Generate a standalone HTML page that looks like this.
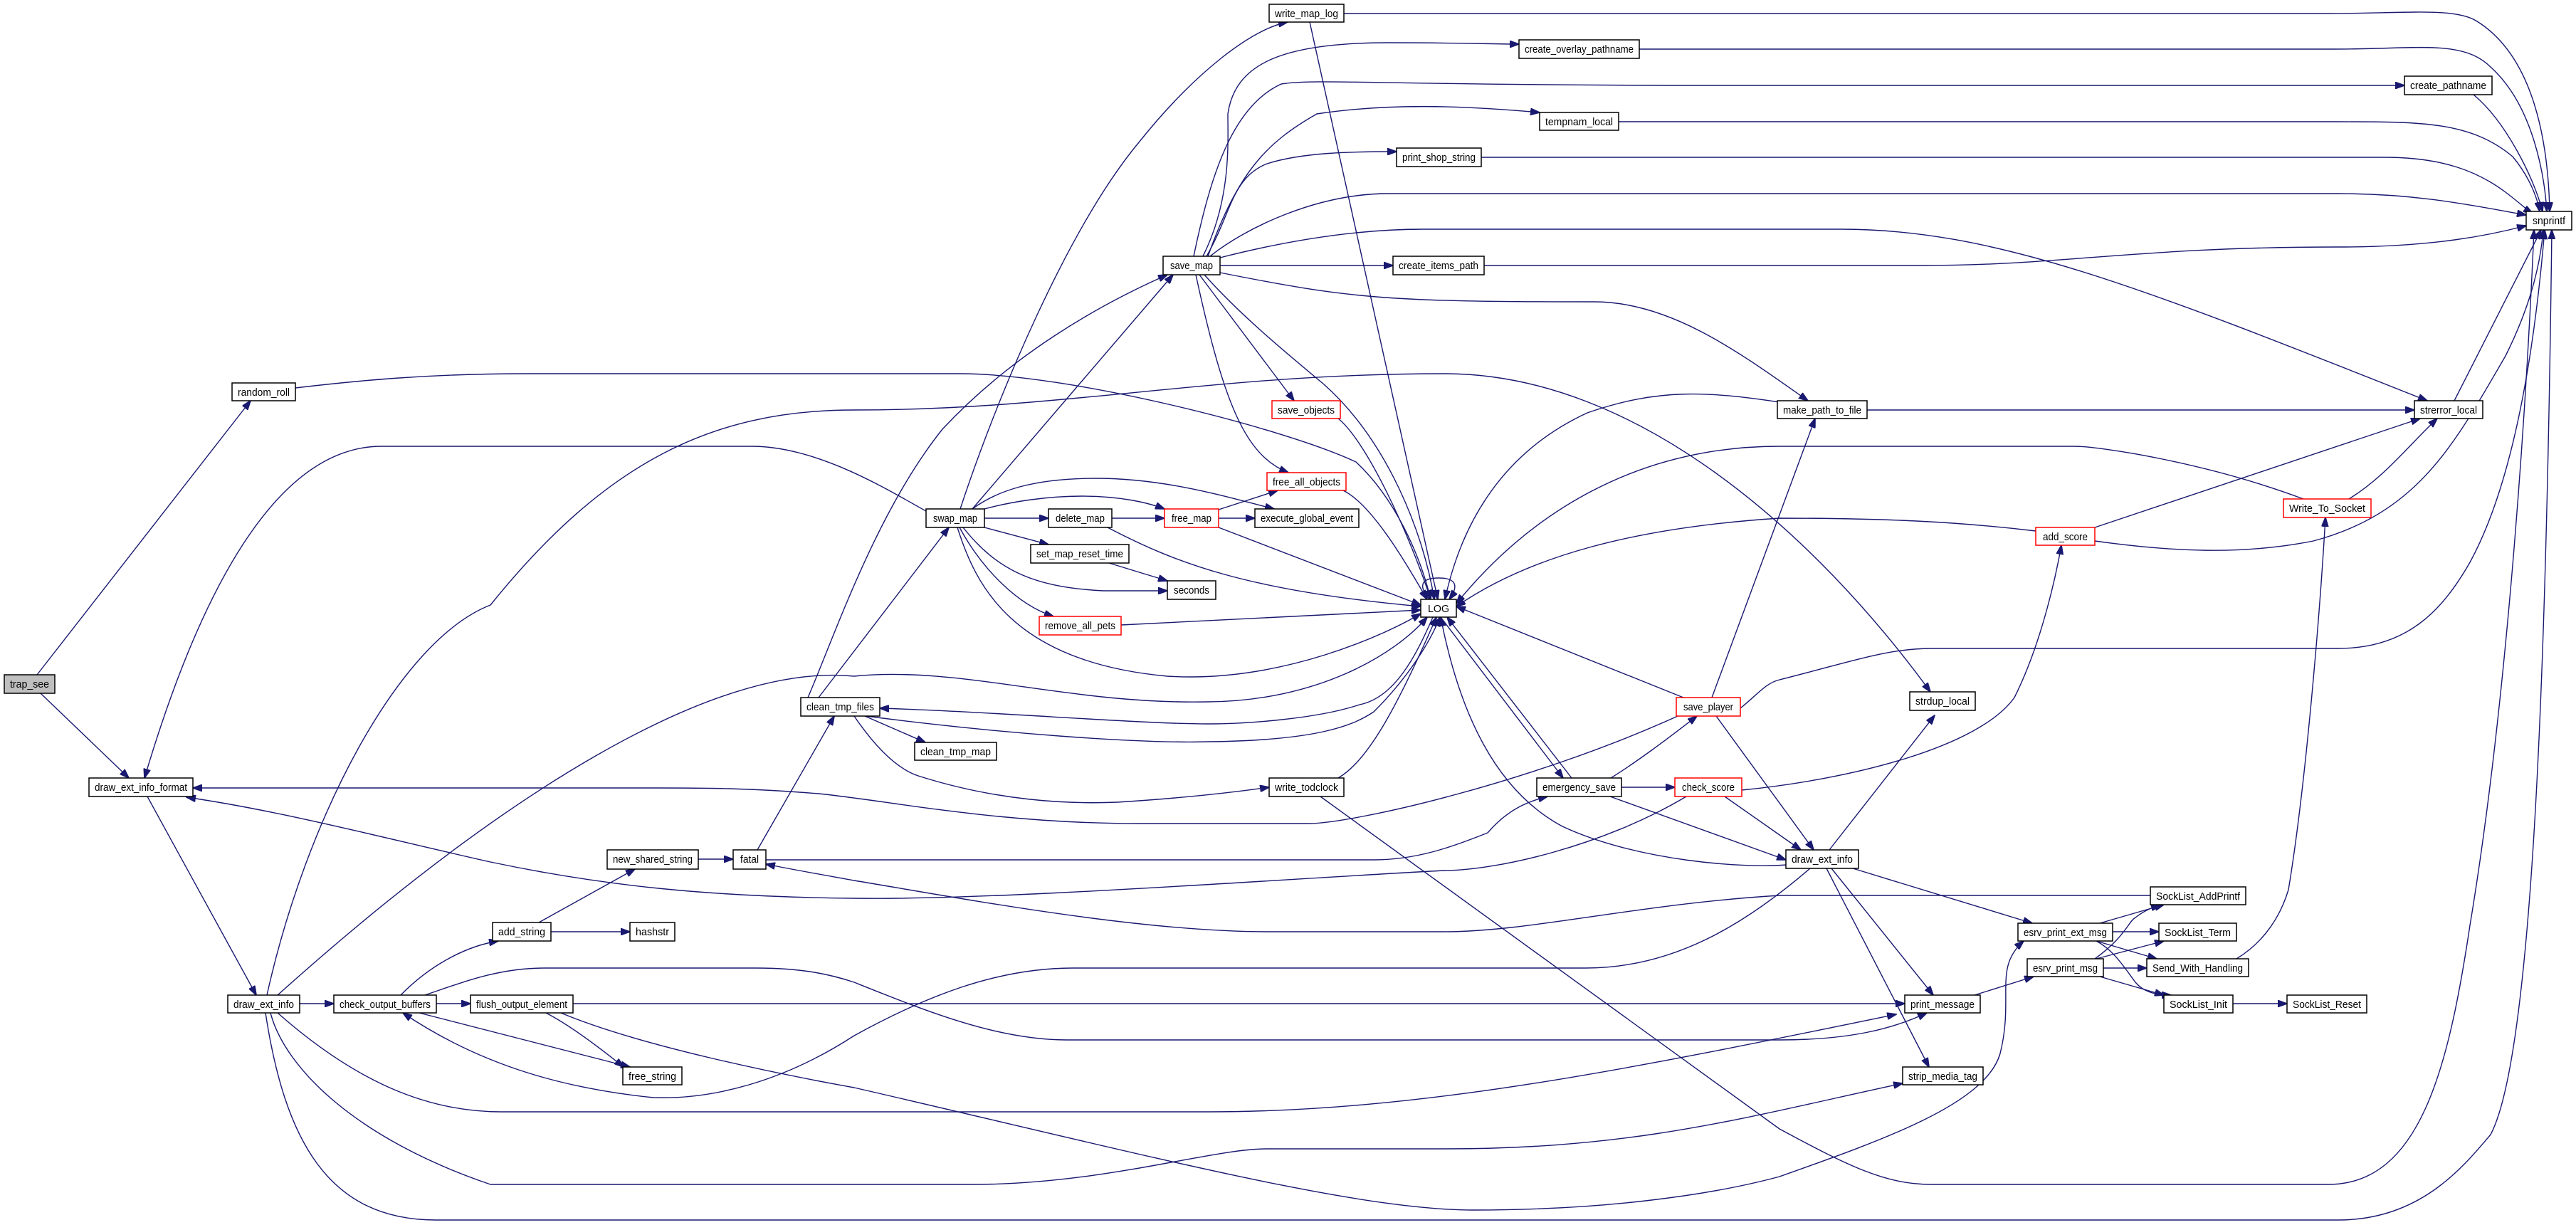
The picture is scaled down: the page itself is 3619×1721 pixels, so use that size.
<!DOCTYPE html>
<html><head><meta charset="utf-8"><style>
html,body{margin:0;padding:0;background:#fff;}
svg{display:block;}
.e{fill:none;stroke:#191970;stroke-width:1.4;marker-end:url(#a);}
.n{fill:#fff;stroke:#000;stroke-width:1.5;}
.r{fill:#fff;stroke:#ff0000;stroke-width:1.5;}
.g{fill:#bfbfbf;stroke:#000;stroke-width:1.5;}
text{font-family:"Liberation Sans",sans-serif;font-size:15px;fill:#000;}
</style></head><body>
<svg width="3619" height="1721" viewBox="0 0 3619 1721" xmlns="http://www.w3.org/2000/svg">
<defs><marker id="a" markerUnits="userSpaceOnUse" markerWidth="14" markerHeight="10" refX="13" refY="5" orient="auto"><path d="M0,0 L14,5 L0,10 z" fill="#191970" stroke="#191970"/></marker></defs>
<g>
<path class="e" d="M52,948 L352,563"/>
<path class="e" d="M57,974 L181,1093"/>
<path class="e" d="M207,1119 L360,1398"/>
<path class="e" d="M421,1410 L469,1410"/>
<path class="e" d="M613,1410 L661,1410"/>
<path class="e" d="M563,1398 C600,1360 650,1330 700,1322"/>
<path class="e" d="M757,1296 L892,1221"/>
<path class="e" d="M774,1309 L885,1309"/>
<path class="e" d="M981,1207 L1030,1207"/>
<path class="e" d="M1064,1194 L1172,1006"/>
<path class="e" d="M1076,1208 L1930,1208 C1990,1208 2040,1190 2090,1170 C2120,1135 2150,1125 2174,1119"/>
<path class="e" d="M3021,1258 L2500,1258 C2300,1270 2150,1309 2029,1309 L1780,1309 C1600,1309 1350,1262 1200,1237 C1150,1228 1110,1221 1076,1214"/>
<path class="e" d="M1301,718 C1250,690 1150,627 1056,627 L536,627 C400,627 290,800 203,1093"/>
<path class="e" d="M2357,1006 C2150,1100 1900,1157 1838,1157 L1600,1157 C1400,1157 1250,1125 1150,1115 C1050,1107 990,1107 920,1107 L271,1107"/>
<path class="e" d="M2369,1119 C2250,1190 2100,1223 2029,1223 C1800,1235 1400,1265 1200,1262 C1000,1260 850,1245 689,1211 C550,1180 400,1140 262,1120"/>
<path class="e" d="M375,1398 C430,1150 560,900 689,850 C850,650 1000,576 1200,576 C1500,576 1700,525 2030,525 C2300,525 2550,750 2712,972"/>
<path class="e" d="M415,545 C500,535 600,525 740,525 L1349,525 C1500,525 1800,600 1905,649 C1960,700 1995,780 2010,842"/>
<path class="e" d="M390,1398 C700,1120 1000,930 1200,950 C1350,935 1500,990 1697,986 C1850,985 1960,920 2005,867"/>
<path class="e" d="M2543,1220 C2450,1300 2350,1360 2228,1360 L1507,1360 C1400,1360 1300,1400 1200,1455 C1100,1520 1000,1545 918,1542 C800,1530 680,1500 566,1423"/>
<path class="e" d="M597,1398 C650,1380 700,1360 765,1360 L1063,1360 C1130,1360 1170,1370 1200,1380 C1300,1420 1400,1461 1498,1461 L2500,1461 C2600,1461 2660,1445 2707,1423"/>
<path class="e" d="M805,1410 L2676,1410"/>
<path class="e" d="M390,1423 C500,1520 600,1562 704,1562 L1697,1562 C2000,1562 2300,1500 2664,1425"/>
<path class="e" d="M373,1423 C400,1600 460,1714 612,1714 L3285,1714 C3400,1714 3460,1640 3499,1594 C3560,1480 3578,900 3585,323"/>
<path class="e" d="M788,1423 C900,1470 1100,1510 1200,1528 C1600,1620 1900,1700 2070,1700 C2250,1700 2400,1680 2500,1653 C2650,1600 2790,1550 2810,1480 C2830,1400 2800,1360 2843,1322"/>
<path class="e" d="M380,1423 C400,1500 500,1600 689,1664 L1366,1664 C1550,1664 1700,1614 1780,1614 L2029,1614 C2300,1614 2450,1570 2673,1522"/>
<path class="e" d="M1855,1119 L2500,1586 C2600,1640 2650,1664 2714,1664 L3271,1664 C3400,1664 3440,1500 3470,1300 C3520,1000 3548,600 3560,323"/>
<path class="e" d="M589,1423 L885,1499"/>
<path class="e" d="M767,1423 C800,1440 840,1470 876,1499"/>
<path class="e" d="M1349,715 C1400,560 1500,320 1600,200 C1680,100 1760,40 1809,31"/>
<path class="e" d="M1366,715 L1648,386"/>
<path class="e" d="M1135,980 C1170,900 1230,720 1324,603 C1420,500 1540,430 1640,386"/>
<path class="e" d="M1150,980 L1333,741"/>
<path class="e" d="M1383,728 L1473,728"/>
<path class="e" d="M1562,728 L1636,728"/>
<path class="e" d="M1383,715 C1420,705 1470,697 1520,697 C1570,697 1610,705 1636,715"/>
<path class="e" d="M1366,715 C1400,690 1450,672 1540,672 C1640,672 1730,700 1790,715"/>
<path class="e" d="M1712,716 L1795,689"/>
<path class="e" d="M1712,728 L1763,728"/>
<path class="e" d="M1383,741 L1473,765"/>
<path class="e" d="M1558,791 L1640,816"/>
<path class="e" d="M1353,741 C1400,800 1450,825 1550,830 L1640,830"/>
<path class="e" d="M1348,741 C1380,800 1430,850 1480,866"/>
<path class="e" d="M1345,741 C1370,820 1420,930 1640,950 C1800,960 1950,890 1996,862"/>
<path class="e" d="M1556,741 C1650,790 1750,830 1996,852"/>
<path class="e" d="M1712,741 L1996,850"/>
<path class="e" d="M1575,878 L1996,857"/>
<path class="e" d="M1887,689 C1930,710 1980,800 2005,842"/>
<path class="e" d="M1880,588 C1920,620 1980,750 2010,842"/>
<path class="e" d="M1692,386 C1740,440 1800,490 1860,540 C1950,620 2000,750 2015,842"/>
<path class="e" d="M1685,386 L1818,563"/>
<path class="e" d="M1680,386 C1720,570 1750,640 1810,664"/>
<path class="e" d="M1840,31 L2020,842"/>
<path class="e" d="M1714,383 C1900,420 1950,424 2240,424 C2350,424 2450,500 2540,563"/>
<path class="e" d="M1714,373 L1957,373"/>
<path class="e" d="M1700,360 C1750,320 1850,272 1950,272 L3285,272 C3400,272 3480,290 3549,302"/>
<path class="e" d="M1714,362 C1800,340 1900,322 2000,322 L2586,322 C2800,322 3000,400 3410,563"/>
<path class="e" d="M2085,373 L2700,373 C2900,373 3000,347 3285,347 C3420,347 3500,330 3549,317"/>
<path class="e" d="M1677,360 C1700,250 1730,150 1800,118 C1850,110 1950,120 2400,120 L3378,120"/>
<path class="e" d="M1690,360 C1730,280 1725,200 1725,160 C1735,90 1800,60 1950,60 C2050,60 2100,62 2134,62"/>
<path class="e" d="M1697,360 C1740,240 1780,200 1850,160 C1950,145 2050,148 2163,158"/>
<path class="e" d="M1695,360 C1730,300 1730,250 1780,230 C1830,214 1900,213 1962,213"/>
<path class="e" d="M1888,19 L3270,19 C3380,19 3450,10 3480,30 C3560,80 3580,200 3582,297"/>
<path class="e" d="M2303,69 L3280,69 C3400,69 3460,55 3500,95 C3560,150 3575,250 3578,297"/>
<path class="e" d="M3475,133 C3520,170 3560,250 3572,297"/>
<path class="e" d="M2274,171 L3280,171 C3400,171 3470,170 3530,220 C3555,250 3565,280 3568,297"/>
<path class="e" d="M2081,221 L3350,221 C3430,221 3480,240 3520,270 C3540,285 3550,295 3558,300"/>
<path class="e" d="M2623,576 L3392,576"/>
<path class="e" d="M2500,565 C2400,550 2330,545 2230,580 C2100,640 2050,750 2030,842"/>
<path class="e" d="M3236,701 C3100,650 2950,627 2914,627 L2500,627 C2300,627 2150,720 2046,848"/>
<path class="e" d="M3300,701 C3350,670 3380,630 3424,588"/>
<path class="e" d="M2943,741 L3400,588"/>
<path class="e" d="M2943,760 C3050,775 3150,780 3250,760 C3400,720 3450,620 3520,500 C3560,420 3570,360 3573,323"/>
<path class="e" d="M2860,746 C2750,733 2650,728 2500,728 C2300,741 2150,780 2046,852"/>
<path class="e" d="M3448,563 L3570,323"/>
<path class="e" d="M2447,1110 C2600,1095 2780,1050 2830,980 C2870,900 2890,800 2896,766"/>
<path class="e" d="M3142,1347 C3170,1330 3200,1300 3215,1250 C3240,1100 3260,850 3267,727"/>
<path class="e" d="M2445,995 C2470,975 2480,960 2500,955 C2600,930 2650,911 2714,911 L3285,911 C3380,911 3430,860 3470,790 C3530,680 3560,500 3575,323"/>
<path class="e" d="M2365,980 L2046,852"/>
<path class="e" d="M2405,980 L2550,588"/>
<path class="e" d="M2411,1006 L2548,1194"/>
<path class="e" d="M2208,1093 L2033,867"/>
<path class="e" d="M2024,867 L2196,1093"/>
<path class="e" d="M2263,1093 C2300,1070 2340,1040 2384,1006"/>
<path class="e" d="M2278,1106 L2353,1106"/>
<path class="e" d="M2262,1119 L2509,1208"/>
<path class="e" d="M2423,1119 L2530,1194"/>
<path class="e" d="M2510,1215 C2450,1220 2300,1210 2195,1161 C2100,1110 2050,1000 2024,867"/>
<path class="e" d="M1217,1006 C1400,1030 1600,1045 1700,1042 C1850,1040 1900,1020 1930,1000 C1980,950 2010,900 2023,867"/>
<path class="e" d="M2013,867 C1990,920 1960,980 1910,990 C1850,1010 1750,1017 1697,1017 C1600,1017 1400,1000 1236,995"/>
<path class="e" d="M1215,1006 L1300,1043"/>
<path class="e" d="M1200,1006 C1230,1050 1260,1080 1290,1090 C1400,1125 1500,1130 1570,1127 C1650,1122 1720,1115 1783,1106"/>
<path class="e" d="M1880,1093 C1920,1070 1960,1000 2018,867"/>
<path class="e" d="M2570,1194 L2718,1005"/>
<path class="e" d="M2603,1220 L2855,1297"/>
<path class="e" d="M2573,1220 L2716,1398"/>
<path class="e" d="M2566,1220 L2710,1499"/>
<path class="e" d="M2774,1398 L2857,1372"/>
<path class="e" d="M2950,1297 L3040,1271"/>
<path class="e" d="M2968,1309 L3033,1309"/>
<path class="e" d="M2945,1322 L3030,1347"/>
<path class="e" d="M2945,1322 C2970,1335 2985,1360 3000,1380 C3010,1392 3025,1398 3050,1398"/>
<path class="e" d="M2943,1347 C2985,1317 2990,1295 3000,1289 C3012,1280 3022,1275 3035,1272"/>
<path class="e" d="M2945,1347 L3040,1322"/>
<path class="e" d="M2955,1360 L3016,1360"/>
<path class="e" d="M2950,1372 L3040,1398"/>
<path class="e" d="M3137,1410 L3213,1410"/>
<path class="e" d="M2008,842 C1990,820 2000,812 2021,812 C2042,812 2052,820 2036,842"/>
</g>
<g>
<rect class="g" x="6" y="948" width="71" height="26"/><text x="41.5" y="966" text-anchor="middle" textLength="55" lengthAdjust="spacingAndGlyphs">trap_see</text>
<rect class="n" x="326" y="538" width="89" height="25"/><text x="370.5" y="556" text-anchor="middle" textLength="73" lengthAdjust="spacingAndGlyphs">random_roll</text>
<rect class="n" x="125" y="1093" width="146" height="26"/><text x="198" y="1111" text-anchor="middle" textLength="130" lengthAdjust="spacingAndGlyphs">draw_ext_info_format</text>
<rect class="n" x="320" y="1398" width="101" height="25"/><text x="370.5" y="1416" text-anchor="middle" textLength="85" lengthAdjust="spacingAndGlyphs">draw_ext_info</text>
<rect class="n" x="469" y="1398" width="144" height="25"/><text x="541" y="1416" text-anchor="middle" textLength="128" lengthAdjust="spacingAndGlyphs">check_output_buffers</text>
<rect class="n" x="661" y="1398" width="144" height="25"/><text x="733" y="1416" text-anchor="middle" textLength="128" lengthAdjust="spacingAndGlyphs">flush_output_element</text>
<rect class="n" x="692" y="1296" width="82" height="26"/><text x="733" y="1314" text-anchor="middle" textLength="66" lengthAdjust="spacingAndGlyphs">add_string</text>
<rect class="n" x="885" y="1296" width="63" height="26"/><text x="916.5" y="1314" text-anchor="middle" textLength="47" lengthAdjust="spacingAndGlyphs">hashstr</text>
<rect class="n" x="853" y="1194" width="128" height="27"/><text x="917" y="1212" text-anchor="middle" textLength="112" lengthAdjust="spacingAndGlyphs">new_shared_string</text>
<rect class="n" x="1030" y="1194" width="46" height="27"/><text x="1053" y="1212" text-anchor="middle" textLength="26" lengthAdjust="spacingAndGlyphs">fatal</text>
<rect class="n" x="875" y="1499" width="83" height="25"/><text x="916.5" y="1517" text-anchor="middle" textLength="67" lengthAdjust="spacingAndGlyphs">free_string</text>
<rect class="n" x="1125" y="980" width="111" height="26"/><text x="1180.5" y="998" text-anchor="middle" textLength="95" lengthAdjust="spacingAndGlyphs">clean_tmp_files</text>
<rect class="n" x="1285" y="1043" width="115" height="25"/><text x="1342.5" y="1061" text-anchor="middle" textLength="99" lengthAdjust="spacingAndGlyphs">clean_tmp_map</text>
<rect class="n" x="1783" y="6" width="105" height="25"/><text x="1835.5" y="24" text-anchor="middle" textLength="89" lengthAdjust="spacingAndGlyphs">write_map_log</text>
<rect class="n" x="2134" y="56" width="169" height="26"/><text x="2218.5" y="74" text-anchor="middle" textLength="153" lengthAdjust="spacingAndGlyphs">create_overlay_pathname</text>
<rect class="n" x="2163" y="158" width="111" height="25"/><text x="2218.5" y="176" text-anchor="middle" textLength="95" lengthAdjust="spacingAndGlyphs">tempnam_local</text>
<rect class="n" x="1962" y="208" width="119" height="26"/><text x="2021.5" y="226" text-anchor="middle" textLength="103" lengthAdjust="spacingAndGlyphs">print_shop_string</text>
<rect class="n" x="1634" y="360" width="80" height="26"/><text x="1674" y="378" text-anchor="middle" textLength="60" lengthAdjust="spacingAndGlyphs">save_map</text>
<rect class="n" x="1957" y="360" width="128" height="26"/><text x="2021" y="378" text-anchor="middle" textLength="112" lengthAdjust="spacingAndGlyphs">create_items_path</text>
<rect class="r" x="1787" y="563" width="96" height="25"/><text x="1835" y="581" text-anchor="middle" textLength="80" lengthAdjust="spacingAndGlyphs">save_objects</text>
<rect class="r" x="1780" y="664" width="111" height="25"/><text x="1835.5" y="682" text-anchor="middle" textLength="95" lengthAdjust="spacingAndGlyphs">free_all_objects</text>
<rect class="n" x="1301" y="715" width="82" height="26"/><text x="1342" y="733" text-anchor="middle" textLength="62" lengthAdjust="spacingAndGlyphs">swap_map</text>
<rect class="n" x="1473" y="715" width="89" height="26"/><text x="1517.5" y="733" text-anchor="middle" textLength="69" lengthAdjust="spacingAndGlyphs">delete_map</text>
<rect class="r" x="1636" y="715" width="76" height="26"/><text x="1674" y="733" text-anchor="middle" textLength="56" lengthAdjust="spacingAndGlyphs">free_map</text>
<rect class="n" x="1763" y="715" width="146" height="26"/><text x="1836" y="733" text-anchor="middle" textLength="130" lengthAdjust="spacingAndGlyphs">execute_global_event</text>
<rect class="n" x="1448" y="765" width="138" height="26"/><text x="1517" y="783" text-anchor="middle" textLength="122" lengthAdjust="spacingAndGlyphs">set_map_reset_time</text>
<rect class="n" x="1640" y="816" width="68" height="26"/><text x="1674" y="834" text-anchor="middle" textLength="50" lengthAdjust="spacingAndGlyphs">seconds</text>
<rect class="r" x="1460" y="866" width="115" height="26"/><text x="1517.5" y="884" text-anchor="middle" textLength="99" lengthAdjust="spacingAndGlyphs">remove_all_pets</text>
<rect class="n" x="1996" y="842" width="50" height="25"/><text x="2021" y="860" text-anchor="middle" textLength="30" lengthAdjust="spacingAndGlyphs">LOG</text>
<rect class="n" x="1783" y="1093" width="105" height="26"/><text x="1835.5" y="1111" text-anchor="middle" textLength="89" lengthAdjust="spacingAndGlyphs">write_todclock</text>
<rect class="n" x="2159" y="1093" width="119" height="26"/><text x="2218.5" y="1111" text-anchor="middle" textLength="103" lengthAdjust="spacingAndGlyphs">emergency_save</text>
<rect class="r" x="2353" y="1093" width="94" height="26"/><text x="2400" y="1111" text-anchor="middle" textLength="74" lengthAdjust="spacingAndGlyphs">check_score</text>
<rect class="r" x="2355" y="980" width="90" height="26"/><text x="2400" y="998" text-anchor="middle" textLength="70" lengthAdjust="spacingAndGlyphs">save_player</text>
<rect class="n" x="3378" y="107" width="123" height="26"/><text x="3439.5" y="125" text-anchor="middle" textLength="107" lengthAdjust="spacingAndGlyphs">create_pathname</text>
<rect class="n" x="3549" y="297" width="64" height="26"/><text x="3581" y="315" text-anchor="middle" textLength="46" lengthAdjust="spacingAndGlyphs">snprintf</text>
<rect class="n" x="2497" y="563" width="126" height="25"/><text x="2560" y="581" text-anchor="middle" textLength="110" lengthAdjust="spacingAndGlyphs">make_path_to_file</text>
<rect class="n" x="3392" y="563" width="96" height="25"/><text x="3440" y="581" text-anchor="middle" textLength="80" lengthAdjust="spacingAndGlyphs">strerror_local</text>
<rect class="r" x="3208" y="701" width="123" height="26"/><text x="3269.5" y="719" text-anchor="middle" textLength="107" lengthAdjust="spacingAndGlyphs">Write_To_Socket</text>
<rect class="r" x="2860" y="741" width="83" height="25"/><text x="2901.5" y="759" text-anchor="middle" textLength="63" lengthAdjust="spacingAndGlyphs">add_score</text>
<rect class="n" x="2683" y="972" width="92" height="26"/><text x="2729" y="990" text-anchor="middle" textLength="76" lengthAdjust="spacingAndGlyphs">strdup_local</text>
<rect class="n" x="2509" y="1194" width="102" height="26"/><text x="2560" y="1212" text-anchor="middle" textLength="86" lengthAdjust="spacingAndGlyphs">draw_ext_info</text>
<rect class="n" x="3021" y="1246" width="134" height="25"/><text x="3088" y="1264" text-anchor="middle" textLength="118" lengthAdjust="spacingAndGlyphs">SockList_AddPrintf</text>
<rect class="n" x="2835" y="1297" width="133" height="25"/><text x="2901.5" y="1315" text-anchor="middle" textLength="117" lengthAdjust="spacingAndGlyphs">esrv_print_ext_msg</text>
<rect class="n" x="3033" y="1297" width="109" height="25"/><text x="3087.5" y="1315" text-anchor="middle" textLength="93" lengthAdjust="spacingAndGlyphs">SockList_Term</text>
<rect class="n" x="2848" y="1347" width="107" height="25"/><text x="2901.5" y="1365" text-anchor="middle" textLength="91" lengthAdjust="spacingAndGlyphs">esrv_print_msg</text>
<rect class="n" x="3016" y="1347" width="143" height="25"/><text x="3087.5" y="1365" text-anchor="middle" textLength="127" lengthAdjust="spacingAndGlyphs">Send_With_Handling</text>
<rect class="n" x="2676" y="1398" width="106" height="25"/><text x="2729" y="1416" text-anchor="middle" textLength="90" lengthAdjust="spacingAndGlyphs">print_message</text>
<rect class="n" x="3040" y="1398" width="97" height="25"/><text x="3088.5" y="1416" text-anchor="middle" textLength="81" lengthAdjust="spacingAndGlyphs">SockList_Init</text>
<rect class="n" x="3213" y="1398" width="112" height="25"/><text x="3269" y="1416" text-anchor="middle" textLength="96" lengthAdjust="spacingAndGlyphs">SockList_Reset</text>
<rect class="n" x="2673" y="1499" width="113" height="25"/><text x="2729.5" y="1517" text-anchor="middle" textLength="97" lengthAdjust="spacingAndGlyphs">strip_media_tag</text>
</g>
</svg>
</body></html>
